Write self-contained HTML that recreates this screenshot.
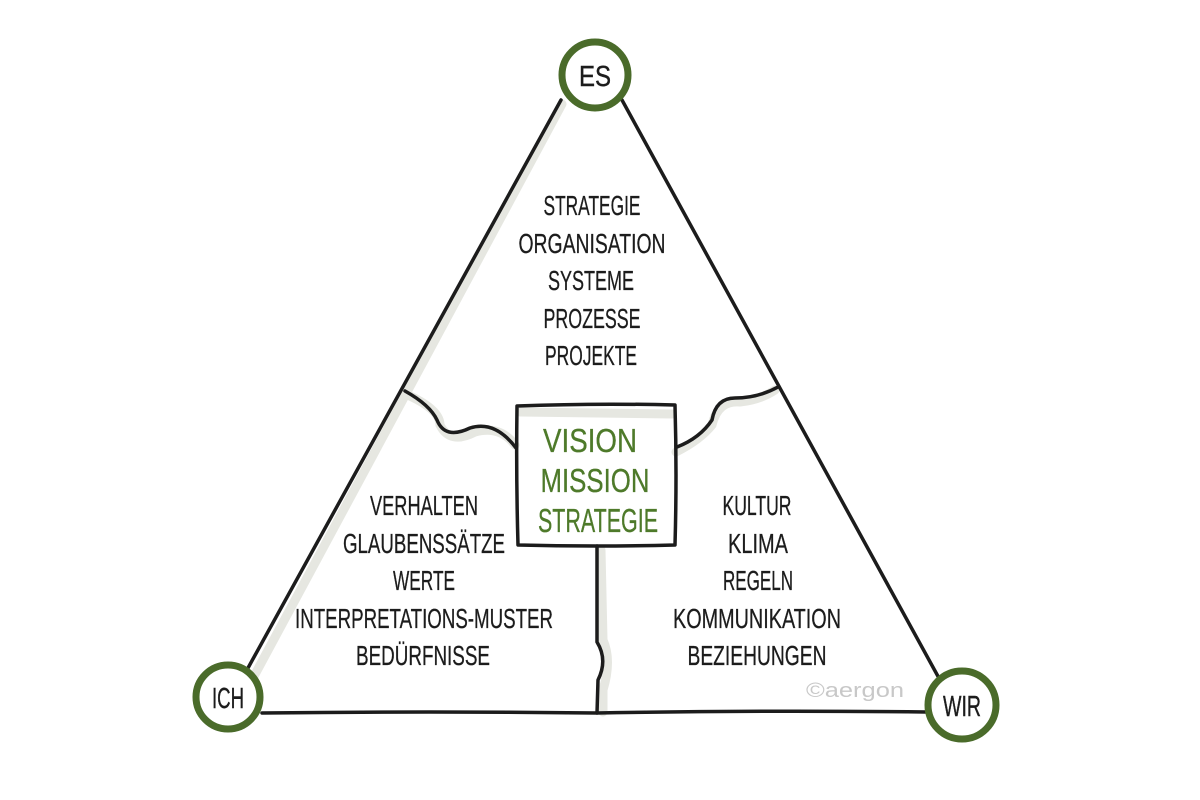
<!DOCTYPE html>
<html><head><meta charset="utf-8"><style>
html,body{margin:0;padding:0;background:#fff;}
svg{display:block}
text{font-family:"Liberation Sans",sans-serif;text-anchor:middle;}
</style></head><body>
<svg width="1200" height="800" viewBox="0 0 1200 800" xmlns="http://www.w3.org/2000/svg">
<g stroke="#e6e7e1" stroke-width="9" fill="none" stroke-linecap="round">
<path d="M562 104 L252 680"/>
<path d="M601 550 L603 640 Q612 660 603 690 L603 712"/>
<path d="M410 396 Q440 410 440 425 Q450 445 475 432 Q500 425 515 445"/>
<path d="M676 452 Q700 440 712 425 Q718 400 740 402 Q760 400 775 390"/>
<path d="M520 412 L672 414"/>
</g>
<g stroke="#1c1c1c" stroke-width="3.5" fill="none" stroke-linecap="round" stroke-linejoin="round">
<path d="M561 100 L248 668"/>
<path d="M622 100 L940 680"/>
<path d="M262 713 Q430 711 597 713 Q760 710 926 712"/>
<path d="M597 546 L597 642 Q608 660 598 680 L597 713"/>
<path d="M405 391 Q430 405 437 420 Q445 440 470 428 Q495 420 516 448"/>
<path d="M677 447 Q700 438 712 420 Q716 398 735 398 Q758 398 778 387"/>
<path d="M517 406 Q595 403 675 405 Q677 475 675 545 Q595 547 518 545 Q516 475 517 406 Z"/>
</g>
<g fill="#fff" stroke="#4a6b2a" stroke-width="7">
<circle cx="595" cy="75" r="33"/>
<circle cx="228" cy="697" r="32"/>
<circle cx="962" cy="705" r="34"/>
</g>
<g fill="#1c1c1c" font-size="29" stroke="#1c1c1c" stroke-width="0.4">
<text x="595" y="86" textLength="32" lengthAdjust="spacingAndGlyphs">ES</text>
<text x="228" y="708" textLength="32" lengthAdjust="spacingAndGlyphs">ICH</text>
<text x="962" y="716" textLength="38" lengthAdjust="spacingAndGlyphs">WIR</text>
</g>
<g fill="#1c1c1c" font-size="28" stroke="#1c1c1c" stroke-width="0.3">
<text x="592" y="215" textLength="97" lengthAdjust="spacingAndGlyphs">STRATEGIE</text>
<text x="592" y="253" textLength="147" lengthAdjust="spacingAndGlyphs">ORGANISATION</text>
<text x="591" y="290" textLength="86" lengthAdjust="spacingAndGlyphs">SYSTEME</text>
<text x="592" y="328" textLength="97" lengthAdjust="spacingAndGlyphs">PROZESSE</text>
<text x="591" y="365" textLength="92" lengthAdjust="spacingAndGlyphs">PROJEKTE</text>
<text x="424" y="515" textLength="108" lengthAdjust="spacingAndGlyphs">VERHALTEN</text>
<text x="424" y="553" textLength="162" lengthAdjust="spacingAndGlyphs">GLAUBENSSÄTZE</text>
<text x="424" y="590" textLength="62" lengthAdjust="spacingAndGlyphs">WERTE</text>
<text x="424" y="628" textLength="258" lengthAdjust="spacingAndGlyphs">INTERPRETATIONS-MUSTER</text>
<text x="423" y="665" textLength="134" lengthAdjust="spacingAndGlyphs">BEDÜRFNISSE</text>
<text x="757" y="515" textLength="69" lengthAdjust="spacingAndGlyphs">KULTUR</text>
<text x="758" y="553" textLength="60" lengthAdjust="spacingAndGlyphs">KLIMA</text>
<text x="758" y="590" textLength="70" lengthAdjust="spacingAndGlyphs">REGELN</text>
<text x="757" y="628" textLength="168" lengthAdjust="spacingAndGlyphs">KOMMUNIKATION</text>
<text x="757" y="665" textLength="139" lengthAdjust="spacingAndGlyphs">BEZIEHUNGEN</text>
</g>
<g fill="#4e7a2a" font-size="33" stroke="#4e7a2a" stroke-width="0.3">
<text x="590" y="452" textLength="94" lengthAdjust="spacingAndGlyphs">VISION</text>
<text x="595" y="492" textLength="109" lengthAdjust="spacingAndGlyphs">MISSION</text>
<text x="598" y="532" textLength="120" lengthAdjust="spacingAndGlyphs">STRATEGIE</text>
</g>
<text x="855" y="697" fill="#c8c8c8" font-size="20" textLength="98" lengthAdjust="spacingAndGlyphs">©aergon</text>
</svg>
</body></html>
